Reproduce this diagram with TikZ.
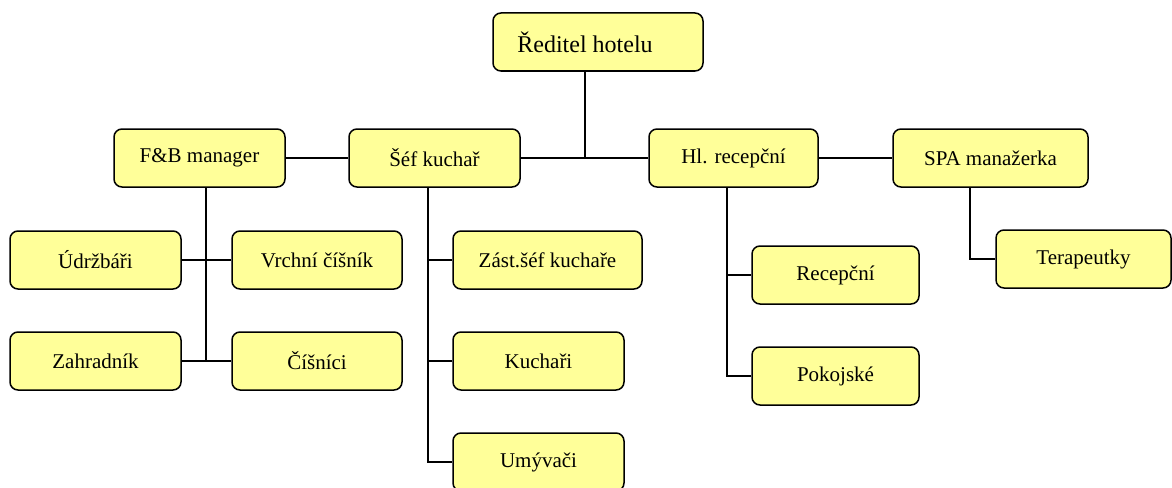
\documentclass[tikz,border=0pt]{standalone}
\usepackage{fontspec}
\setmainfont{Liberation Serif}
\definecolor{boxfill}{RGB}{255,255,153}
\begin{document}
\begin{tikzpicture}[x=1pt,y=-1pt,
  orgbox/.style={draw=black, line width=1.5pt, fill=boxfill, rounded corners=8pt,
    inner sep=0pt, minimum height=58pt, font=\fontsize{21}{25}\selectfont},
  link/.style={draw=black, line width=1.3pt}]
\useasboundingbox (0,0) rectangle (1172,487);
\clip (0,0) rectangle (1172,487);
% nodes
\node[orgbox, minimum width=210pt, font=\fontsize{24}{28}\selectfont] (dir) at (598,42) {\hspace*{-26pt}Ředitel hotelu};
\node[orgbox, minimum width=171pt] (fb) at (199.5,158) {F\&B manager};
\node[orgbox, minimum width=171pt] (sef) at (434.5,158) {Šéf kuchař};
\node[orgbox, minimum width=169pt] (hl) at (733.5,158) {Hl. recepční};
\node[orgbox, minimum width=195pt] (spa) at (990.5,158) {SPA manažerka};
\node[orgbox, minimum width=171pt] (udr) at (95.5,260) {Údržbáři};
\node[orgbox, minimum width=170pt] (vrc) at (317,260) {Vrchní číšník};
\node[orgbox, minimum width=171pt] (zah) at (95.5,361) {Zahradník};
\node[orgbox, minimum width=170pt] (cis) at (317,361) {Číšníci};
\node[orgbox, minimum width=189pt] (zast) at (547.5,260) {Zást.šéf kuchaře};
\node[orgbox, minimum width=171pt] (kuch) at (538.5,361) {Kuchaři};
\node[orgbox, minimum width=171pt] (umy) at (538.5,462) {Umývači};
\node[orgbox, minimum width=167pt] (rec) at (835.5,275) {Recepční};
\node[orgbox, minimum width=167pt] (pok) at (835.5,376) {Pokojské};
\node[orgbox, minimum width=175pt] (ter) at (1083.5,259) {Terapeutky};
% junction coordinates
\coordinate (dirj) at (585,158);
\coordinate (fbb) at (206,361);
\coordinate (sfb) at (428,462);
\coordinate (hlb) at (727,376);
\coordinate (spab) at (970,259);
% connectors
\draw[link] (dir.south -| dirj) -- (dirj);
\draw[link] (fb.east) -- (sef.west);
\draw[link] (sef.east) -- (hl.west);
\draw[link] (hl.east) -- (spa.west);
\draw[link] (fb.south -| fbb) -- (fbb);
\draw[link] (udr.east) -- (vrc.west);
\draw[link] (zah.east) -- (cis.west);
\draw[link] (sef.south -| sfb) -- (sfb) -- (umy.west);
\draw[link] (sfb |- zast.west) -- (zast.west);
\draw[link] (sfb |- kuch.west) -- (kuch.west);
\draw[link] (hl.south -| hlb) -- (hlb) -- (pok.west);
\draw[link] (hlb |- rec.west) -- (rec.west);
\draw[link] (spa.south -| spab) -- (spab) -- (ter.west);
\end{tikzpicture}
\end{document}
